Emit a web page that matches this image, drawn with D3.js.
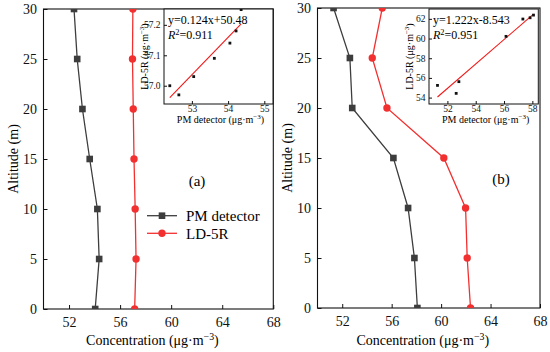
<!DOCTYPE html>
<html>
<head>
<meta charset="utf-8">
<script src="https://cdn.jsdelivr.net/npm/d3@7"></script>
<style>
body { margin: 0; background: #fff; }
svg { display: block; }
</style>
</head>
<body>
<div id="chart"></div>
<script>
// altitude levels (m)
const altitude = [0, 5, 10, 15, 20, 25, 30];

// panel (a) concentrations
const pmA = [54.05, 54.36, 54.22, 53.62, 53.05, 52.64, 52.39];
const ldA = [57.14, 57.25, 57.18, 57.09, 57.03, 56.97, 57.0];

// panel (b) concentrations
const pmB = [58.08, 57.84, 57.33, 56.14, 52.81, 52.62, 51.3];
const ldB = [62.38, 62.11, 61.98, 60.22, 55.62, 54.43, 55.24];

const xTicks = [52, 56, 60, 64, 68];
const yTicks = [0, 5, 10, 15, 20, 25, 30];

const insetXTicksA = [53, 54, 55];
const insetYTicksA = [57.0, 57.1, 57.2];
const insetXTicksB = [52, 54, 56, 58];
const insetYTicksB = [54, 56, 58, 60, 62];

const fitTextA = ["y=0.124x+50.48", "=0.911"];
const fitTextB = ["y=1.222x-8.543", "=0.951"];

const seriesNames = ["PM detector", "LD-5R"];
const panelTags = ["(a)", "(b)"];

const FONT = "'Liberation Serif', 'Times New Roman', Times, serif";
const dark = "#3d3d3d", red = "#f23030";
const W = 550, H = 352;

const svg = d3.select("#chart").append("svg")
    .attr("width", W)
    .attr("height", H)
    .attr("font-family", FONT)
    .style("font-family", FONT);

const panels = [
    {id: "a", pm: pmA, ld: ldA, tag: panelTags[0],
     box: {x0: 43.5, x1: 273.3, y0: 9, y1: 309},
     inset: {x0: 164, x1: 273, y0: 9, y1: 104, xd: [52.23, 55.24], yd: [56.94, 57.252],
             xt: insetXTicksA, yt: insetYTicksA, fmt: d3.format(".1f"), fit: fitTextA},
     tagPos: [197, 185.5], legend: true},
    {id: "b", pm: pmB, ld: ldB, tag: panelTags[1],
     box: {x0: 317.5, x1: 540, y0: 8, y1: 308},
     inset: {x0: 429, x1: 538.3, y0: 9, y1: 104, xd: [50.7, 58.42], yd: [53.35, 63.0],
             xt: insetXTicksB, yt: insetYTicksB, fmt: d3.format("d"), fit: fitTextB},
     tagPos: [501, 184], legend: false}
];

// adds "(μg·m−3)" with a real superscript
function unitLabel(t, prefix) {
    t.append("tspan").text(prefix + "(μg·m");
    t.append("tspan").text("−3").attr("baseline-shift", "super").style("font-size", "70%");
    t.append("tspan").text(")");
}

function leastSquares(xs, ys) {
    const mx = d3.mean(xs), my = d3.mean(ys);
    let sxy = 0, sxx = 0;
    xs.forEach((x, i) => { sxy += (x - mx) * (ys[i] - my); sxx += (x - mx) ** 2; });
    const b = sxy / sxx;
    return {b: b, a: my - b * mx};
}

function styleAxis(a, size) {
    a.attr("font-family", null);
    a.select(".domain").remove();
    a.selectAll("line").attr("stroke", "#111");
    a.selectAll("text")
        .style("font-size", size)
        .style("font-family", FONT)
        .attr("fill", "#111");
}

panels.forEach(p => {
    const g = svg.append("g");
    const b = p.box;
    const x = d3.scaleLinear().domain([50, 68]).range([b.x0, b.x1]);
    const y = d3.scaleLinear().domain([0, 30]).range([b.y1, b.y0]);

    svg.append("clipPath").attr("id", "clip-" + p.id)
        .append("rect").attr("x", b.x0).attr("y", b.y0)
        .attr("width", b.x1 - b.x0).attr("height", b.y1 - b.y0);

    // axes, ticks point inward
    const xAxis = g.append("g")
        .attr("transform", `translate(0,${b.y1})`)
        .call(d3.axisBottom(x).tickValues(xTicks).tickFormat(d3.format("d"))
            .tickSizeInner(-4).tickSizeOuter(0).tickPadding(8));
    const yAxis = g.append("g")
        .attr("transform", `translate(${b.x0},0)`)
        .call(d3.axisLeft(y).tickValues(yTicks).tickFormat(d3.format("d"))
            .tickSizeInner(-4).tickSizeOuter(0).tickPadding(6.5));
    styleAxis(xAxis, "14px");
    styleAxis(yAxis, "14px");

    g.append("rect")
        .attr("x", b.x0).attr("y", b.y0)
        .attr("width", b.x1 - b.x0).attr("height", b.y1 - b.y0)
        .attr("fill", "none").attr("stroke", "#111").attr("stroke-width", 1.1);

    // axis titles
    const xt = g.append("text")
        .attr("x", (b.x0 + b.x1) / 2 - 6).attr("y", 345)
        .attr("text-anchor", "middle").style("font-size", "14px");
    unitLabel(xt, "Concentration ");

    g.append("text")
        .attr("transform", `translate(${b.x0 - 30},${(b.y0 + b.y1) / 2}) rotate(-90)`)
        .attr("text-anchor", "middle").attr("dy", "0.35em")
        .style("font-size", "14px")
        .text("Altitude (m)");

    // profiles
    const plot = g.append("g").attr("clip-path", `url(#clip-${p.id})`);
    const line = vals => d3.line()
        .x((d, i) => x(vals[i]))
        .y(d => y(d))(altitude);

    plot.append("path").attr("d", line(p.pm))
        .attr("fill", "none").attr("stroke", dark).attr("stroke-width", 1.3);
    plot.append("path").attr("d", line(p.ld))
        .attr("fill", "none").attr("stroke", red).attr("stroke-width", 1.3);

    plot.selectAll(".sq").data(altitude).enter().append("rect")
        .attr("class", "sq")
        .attr("x", (d, i) => x(p.pm[i]) - 3.3).attr("y", d => y(d) - 3.3)
        .attr("width", 6.6).attr("height", 6.6).attr("fill", dark);
    plot.selectAll(".dot").data(altitude).enter().append("circle")
        .attr("class", "dot")
        .attr("cx", (d, i) => x(p.ld[i])).attr("cy", d => y(d))
        .attr("r", 3.7).attr("fill", red);

    g.append("text")
        .attr("x", p.tagPos[0]).attr("y", p.tagPos[1])
        .attr("text-anchor", "middle").style("font-size", "15px")
        .text(p.tag);

    // legend
    if (p.legend) {
        const lg = g.append("g");
        seriesNames.forEach((name, i) => {
            const ly = 215.7 + i * 17.6;
            const col = i === 0 ? dark : red;
            lg.append("line").attr("x1", 147).attr("x2", 177).attr("y1", ly).attr("y2", ly)
                .attr("stroke", col).attr("stroke-width", 1.3);
            if (i === 0) {
                lg.append("rect").attr("x", 162 - 3.3).attr("y", ly - 3.3)
                    .attr("width", 6.6).attr("height", 6.6).attr("fill", col);
            } else {
                lg.append("circle").attr("cx", 162).attr("cy", ly).attr("r", 3.7).attr("fill", col);
            }
            lg.append("text").attr("x", 186).attr("y", ly + 5.2)
                .style("font-size", "15px").text(name);
        });
    }

    // inset scatter with linear fit
    const s = p.inset;
    const ix = d3.scaleLinear().domain(s.xd).range([s.x0, s.x1]);
    const iy = d3.scaleLinear().domain(s.yd).range([s.y1, s.y0]);
    const ig = g.append("g");

    ig.append("rect")
        .attr("x", s.x0).attr("y", s.y0)
        .attr("width", s.x1 - s.x0).attr("height", s.y1 - s.y0)
        .attr("fill", "#fff");

    svg.append("clipPath").attr("id", "iclip-" + p.id)
        .append("rect").attr("x", s.x0).attr("y", s.y0)
        .attr("width", s.x1 - s.x0).attr("height", s.y1 - s.y0);

    const ixAxis = ig.append("g")
        .attr("transform", `translate(0,${s.y1})`)
        .call(d3.axisBottom(ix).tickValues(s.xt).tickFormat(d3.format("d"))
            .tickSizeInner(-3).tickSizeOuter(0).tickPadding(1.5));
    const iyAxis = ig.append("g")
        .attr("transform", `translate(${s.x0},0)`)
        .call(d3.axisLeft(iy).tickValues(s.yt).tickFormat(s.fmt)
            .tickSizeInner(-3).tickSizeOuter(0).tickPadding(3.5));
    styleAxis(ixAxis, "9.5px");
    styleAxis(iyAxis, "9.5px");

    ig.append("rect")
        .attr("x", s.x0).attr("y", s.y0)
        .attr("width", s.x1 - s.x0).attr("height", s.y1 - s.y0)
        .attr("fill", "none").attr("stroke", "#111").attr("stroke-width", 1);

    const ixt = ig.append("text")
        .attr("x", (s.x0 + s.x1) / 2 + 2).attr("y", s.y1 + 19)
        .attr("text-anchor", "middle").style("font-size", "10px");
    unitLabel(ixt, "PM detector ");

    const iyt = ig.append("text")
        .attr("transform", `translate(${s.x0 - 20},${(s.y0 + s.y1) / 2}) rotate(-90)`)
        .attr("text-anchor", "middle").attr("dy", "0.35em")
        .style("font-size", "10px");
    unitLabel(iyt, "LD-5R ");

    const fit = leastSquares(p.pm, p.ld);
    const ext = d3.extent(p.pm);
    const ip = ig.append("g").attr("clip-path", `url(#iclip-${p.id})`);
    ip.append("line")
        .attr("x1", ix(ext[0])).attr("y1", iy(fit.a + fit.b * ext[0]))
        .attr("x2", ix(ext[1])).attr("y2", iy(fit.a + fit.b * ext[1]))
        .attr("stroke", "#f01818").attr("stroke-width", 1.1);
    ip.selectAll(".pt").data(p.pm).enter().append("rect")
        .attr("class", "pt")
        .attr("x", d => ix(d) - 1.4)
        .attr("y", (d, i) => iy(p.ld[i]) - 1.4)
        .attr("width", 2.8).attr("height", 2.8).attr("fill", "#111");

    ig.append("text")
        .attr("x", s.x0 + 4).attr("y", s.y0 + 14.5)
        .style("font-size", "12px").text(s.fit[0]);
    const r2 = ig.append("text")
        .attr("x", s.x0 + 4).attr("y", s.y0 + 30)
        .style("font-size", "12px");
    r2.append("tspan").style("font-style", "italic").text("R");
    r2.append("tspan").attr("baseline-shift", "super").style("font-size", "70%").text("2");
    r2.append("tspan").text(s.fit[1]);
});
</script>
</body>
</html>
